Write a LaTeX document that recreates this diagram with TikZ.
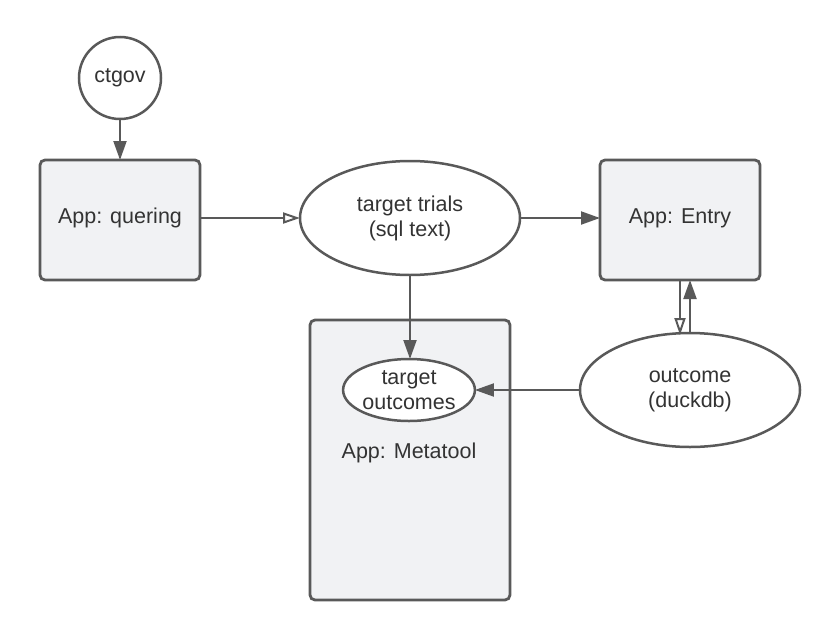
\documentclass[tikz,border=0pt]{standalone}
\usepackage{fontspec}
\setmainfont{Liberation Sans}
\usetikzlibrary{arrows.meta,shapes.geometric}
\definecolor{ln}{HTML}{595959}
\definecolor{bx}{HTML}{F1F2F4}
\definecolor{tx}{HTML}{333333}
\begin{document}
\begin{tikzpicture}[x=1pt,y=-1pt,
  every node/.style={font=\fontsize{21.5}{25}\selectfont, text=tx, inner sep=0pt, outer sep=0pt},
  appbox/.style={draw=ln, line width=2.8pt, fill=bx, rounded corners=5pt},
  ell/.style={ellipse, draw=ln, line width=2.5pt, fill=white, align=center},
  conn/.style={draw=ln, line width=2pt, -{Triangle[length=19pt,width=13pt]}},
  oconn/.style={draw=ln, line width=2pt, -{Triangle[open,length=17pt,width=11pt]}}]
\useasboundingbox (0,0) rectangle (840,640);
% boxes
\node[appbox, minimum width=160pt, minimum height=120pt] (quer) at (120,220) {};
\node at (120,218) {App: quering};
\node[appbox, minimum width=160pt, minimum height=120pt] (entry) at (680,220) {};
\node at (680,218) {App: Entry};
\node[appbox, minimum width=200pt, minimum height=280pt] (meta) at (410,460) {};
\node at (409,453) {App: Metatool};
% circle and ellipses
\node[circle, draw=ln, line width=2.5pt, minimum size=82pt] (ctgov) at (120,78) {ctgov};
\node[ell, minimum width=220pt, minimum height=114pt] (trials) at (410,218) {target trials\\(sql text)};
\node[ell, minimum width=220pt, minimum height=114pt] (outc) at (690,390) {outcome\\(duckdb)};
\node[ell, minimum width=126pt, minimum height=62pt] (tout) at (409,390) {target\\outcomes};
% connectors
\draw[conn] (ctgov) -- (quer);
\draw[oconn] (quer.east |- trials.west) -- (trials.west);
\draw[conn] (trials.east) -- (entry.west |- trials.east);
\draw[conn] (trials.south) -- (trials.south |- tout.north);
\draw[conn] (outc.west) -- (tout.east);
\coordinate (e1) at (680,280);
\coordinate (o1) at (680,335);
\coordinate (e2) at (690,280);
\coordinate (o2) at (690,333);
\draw[oconn] (e1) -- (o1);
\draw[conn] (o2) -- (e2);
\end{tikzpicture}
\end{document}
